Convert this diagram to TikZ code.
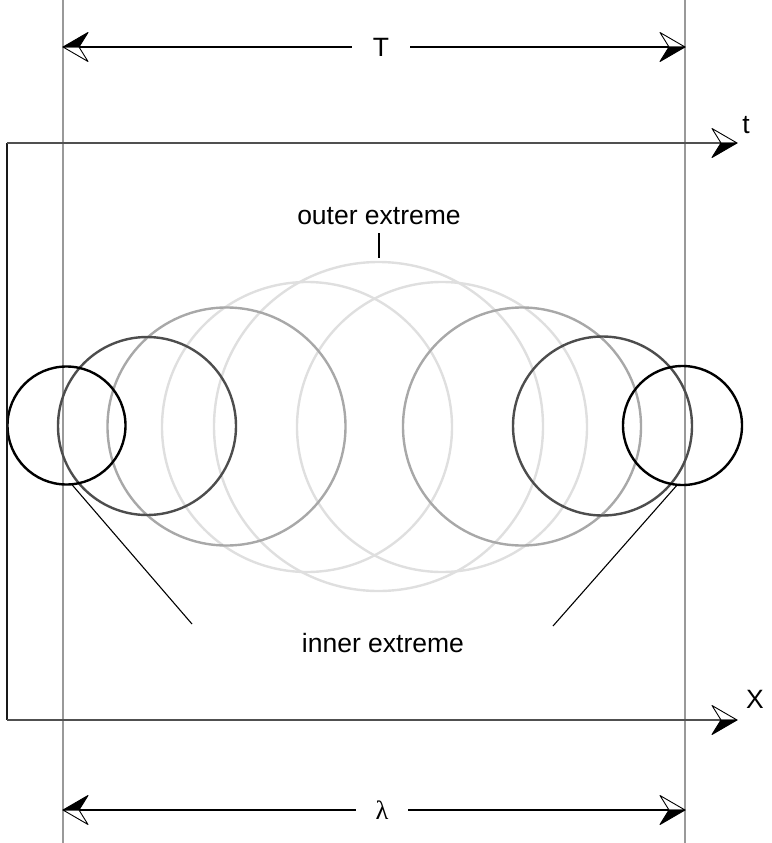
\documentclass[tikz,border=0pt]{standalone}
\usepackage{fontspec}
\setmainfont{Liberation Sans}
\newfontfamily\lamfont{Liberation Serif}
\pgfdeclarearrow{
  name=HalfFill,
  setup code={
    \pgfarrowssettipend{0pt}
    \pgfarrowssetbackend{-25pt}
    \pgfarrowssetlineend{-14pt}
    \pgfarrowsupperhullpoint{0pt}{0pt}
    \pgfarrowsupperhullpoint{-25pt}{14.5pt}
  },
  drawing code={
    \pgfsetdash{}{0pt}
    \pgfsetroundjoin
    \pgfsetlinewidth{0.9pt}
    \pgfsetstrokecolor{black}
    \pgfpathmoveto{\pgfqpoint{0pt}{0pt}}
    \pgfpathlineto{\pgfqpoint{-25pt}{14.5pt}}
    \pgfpathlineto{\pgfqpoint{-16pt}{0pt}}
    \pgfpathclose
    \pgfsetfillcolor{white}
    \pgfusepathqfillstroke
    \pgfpathmoveto{\pgfqpoint{0pt}{0pt}}
    \pgfpathlineto{\pgfqpoint{-25pt}{-14.5pt}}
    \pgfpathlineto{\pgfqpoint{-16pt}{0pt}}
    \pgfpathclose
    \pgfsetfillcolor{black}
    \pgfusepathqfillstroke
  }
}
\definecolor{gline}{HTML}{999999}
\definecolor{axcol}{HTML}{505050}
\definecolor{cdark}{HTML}{4D4D4D}
\definecolor{cmid}{HTML}{A8A8A8}
\definecolor{clight}{HTML}{DFDFDF}
\begin{document}
\begin{tikzpicture}[x=1pt,y=-1pt,
  guide/.style={draw=gline,line width=1.5pt},
  dimline/.style={draw=black,line width=1.2pt,-HalfFill},
  axisline/.style={draw=axcol,line width=1.6pt},
  axisarrow/.style={draw=axcol,line width=1.6pt,-HalfFill},
  ring/.style={circle,inner sep=0pt,outer sep=0pt,line width=2.4pt},
  lbl/.style={font=\fontsize{26.5}{30}\selectfont,inner sep=0pt},
  leader/.style={draw=black,line width=1.1pt}]
\useasboundingbox (0,0) rectangle (771,843);
% guide lines
\coordinate (g1t) at (63,0); \coordinate (g1b) at (63,843);
\coordinate (g2t) at (685,0); \coordinate (g2b) at (685,843);
\draw[guide] (g1t) -- (g1b);
\draw[guide] (g2t) -- (g2b);
% circles
\node[ring,draw=clight,minimum size=329pt] (c5) at (378.5,426.5) {};
\node[ring,draw=clight,minimum size=290pt] (c4) at (307,427) {};
\node[ring,draw=clight,minimum size=290pt] (c6) at (442,427) {};
\node[ring,draw=cmid,minimum size=238pt] (c3) at (226.5,426.5) {};
\node[ring,draw=cmid,minimum size=238pt] (c7) at (522,426.5) {};
\node[ring,draw=cdark,minimum size=178pt] (c2) at (147,426) {};
\node[ring,draw=cdark,minimum size=179pt] (c8) at (602.5,426) {};
\node[ring,draw=black,minimum size=118pt] (c1) at (66.5,425.5) {};
\node[ring,draw=black,minimum size=119pt] (c9) at (682.5,425.5) {};
% top dimension T
\coordinate (TL) at (63,47); \coordinate (TR) at (685,47);
\node[lbl,minimum width=58pt] (T) at (381,47) {T};
\draw[dimline] (T) -- (TL);
\draw[dimline] (T) -- (TR);
% axes
\coordinate (Otop) at (7,143); \coordinate (O) at (7,720);
\coordinate (tend) at (737,143); \coordinate (xend) at (737,720);
\draw[draw=black!90,line width=2pt] (Otop) -- (O);
\draw[axisarrow] (Otop) -- (tend);
\draw[axisarrow] (O) -- (xend);
\node[lbl] (tl) at (746,125) {t};
\node[lbl] (xl) at (755,699) {X};
% bottom dimension lambda
\coordinate (BL) at (63,810); \coordinate (BR) at (685,810);
\node[lbl,minimum width=52pt] (lam) at (382,810) {\lamfont λ};
\draw[dimline] (lam) -- (BL);
\draw[dimline] (lam) -- (BR);
% outer extreme
\node[lbl] (oe) at (379,216) {outer extreme};
\coordinate (oe1) at (379,233); \coordinate (oe2) at (379,258);
\draw[leader] (oe1) -- (oe2);
% inner extreme
\node[lbl] (ie) at (383,643) {inner extreme};
\coordinate (ieL) at (192,624); \coordinate (ieR) at (553,626);
\draw[leader] (c1.-85) -- (ieL);
\draw[leader] (c9.-95) -- (ieR);
\end{tikzpicture}
\end{document}
